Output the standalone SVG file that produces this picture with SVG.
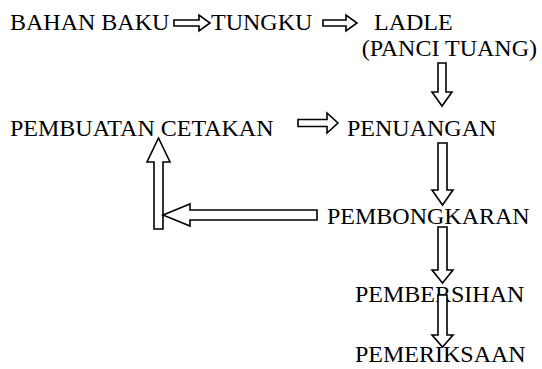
<svg xmlns="http://www.w3.org/2000/svg" width="542" height="369" viewBox="0 0 542 369">
<style>
.t{font-family:'Liberation Serif','Times New Roman',serif;font-size:24px;fill:#000}
.ar{fill:#fff;stroke:#000;stroke-width:1.6;stroke-linejoin:miter}
</style>
<rect width="542" height="369" fill="#fff"/>
<g id="bahan-baku"><text class="t" x="10" y="30">BAHAN BAKU</text></g>
<g id="tungku"><text class="t" x="211" y="30">TUNGKU</text></g>
<g id="ladle"><text class="t" x="374" y="30">LADLE</text><text class="t" x="537" y="56" text-anchor="end">(PANCI TUANG)</text></g>
<g id="pembuatan-cetakan"><text class="t" x="10" y="136">PEMBUATAN CETAKAN</text></g>
<g id="penuangan"><text class="t" x="347" y="136">PENUANGAN</text></g>
<g id="pembongkaran"><text class="t" x="327" y="224">PEMBONGKARAN</text></g>
<g id="pembersihan"><text class="t" x="355" y="302">PEMBERSIHAN</text></g>
<g id="pemeriksaan"><text class="t" x="355" y="362">PEMERIKSAAN</text></g>
<g id="connectors">
<polygon class="ar" points="174,20 199,20 199,15 210,23 199,31 199,26 174,26"/>
<polygon class="ar" points="323,20 346,20 346,15 357,23 346,31 346,26 323,26"/>
<polygon class="ar" points="438,63 446,63 446,92 452,92 442,106 432,92 438,92"/>
<polygon class="ar" points="298,119.5 327,119.5 327,113 338,123 327,133 327,126.5 298,126.5"/>
<polygon class="ar" points="438,143 447,143 447,190 453,190 442.5,205 432,190 438,190"/>
<polygon class="ar" points="154,229 154,162 147,162 158.5,138 170,162 163,162 163,229"/>
<polygon class="ar" points="317,210 190,210 190,204 163,215 190,226 190,220 317,220"/>
<polygon class="ar" points="438,227 447,227 447,270 453,270 442.5,283 432,270 438,270"/>
<polygon class="ar" points="438,295 447,295 447,335 453,335 442.5,347 432,335 438,335"/>
</g>
</svg>
